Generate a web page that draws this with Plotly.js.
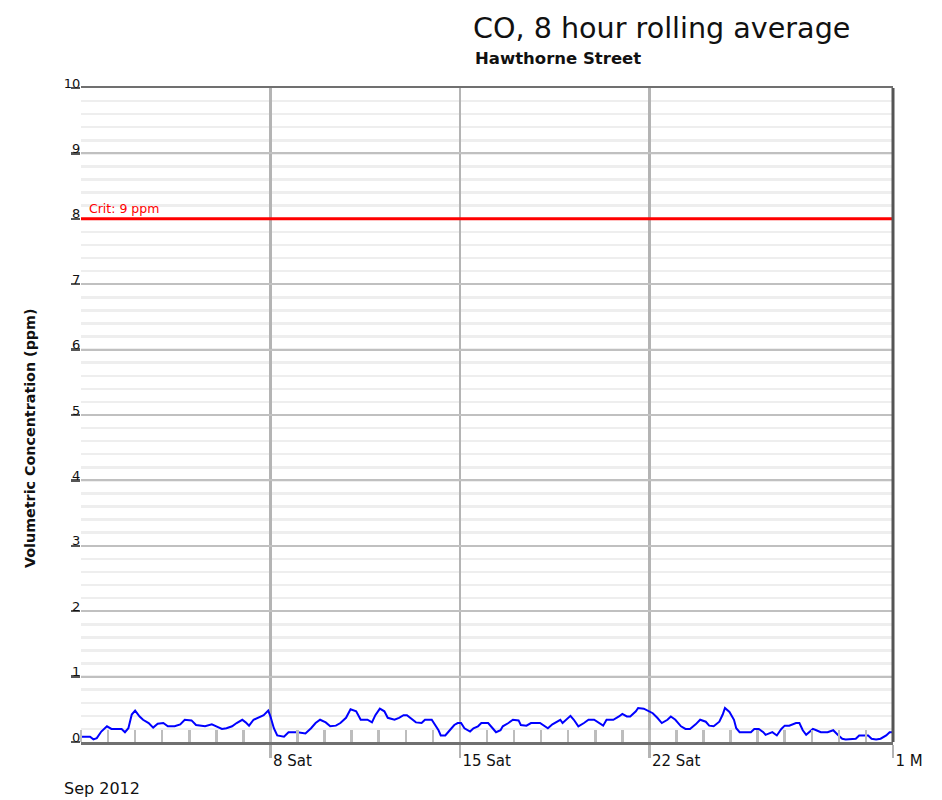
<!DOCTYPE html>
<html>
<head>
<meta charset="utf-8">
<script src="https://cdn.plot.ly/plotly-3.0.1.min.js"></script>
<style>html,body{margin:0;padding:0;background:#fff;}#chart{width:942px;height:800px;}</style>
</head>
<body>
<div id="chart"></div>
<script>
// Hours since 2012-09-01 00:00
const hoursSinceStart = [0,8,11,14,18,23,27,36,39,42,45,48,52,55,60,64,68,73,77,83,88,92,98,102,110,116,120,125,129,134,138,143,
146,149,153,158,162,166,168,171,174,180,184,192,199,204,208,212,217,221,226,230,235,239,244,248,254,258,261,265,269,272,278,282,
286,289,293,297,302,305,311,313,317,319,323,327,331,334,337,340,345,348,352,355,361,365,368,372,374,379,383,388,390,395,399,407,411,414,418,422,425,427,
432,434,437,441,446,450,455,459,463,466,472,477,480,484,487,492,494,499,503,507,511,515,520,523,527,532,536,540,545,549,554,557,561,566,569,571,575,
579,581,584,588,594,597,601,605,607,613,617,621,624,628,634,637,640,643,646,649,652,656,662,667,671,675,678,683,687,690,695,698,701,705,709,714,717,720];
// CO 8-hour rolling average (ppm)
const coValues = [0.08,0.08,0.04,0.06,0.16,0.24,0.20,0.20,0.15,0.21,0.42,0.48,0.39,0.34,0.29,0.22,0.28,0.29,0.24,0.24,0.27,0.34,0.33,0.26,0.24,0.27,0.24,0.20,0.21,0.24,0.29,0.34,
0.30,0.25,0.34,0.38,0.41,0.48,0.39,0.21,0.10,0.08,0.15,0.15,0.13,0.21,0.29,0.34,0.30,0.24,0.25,0.29,0.37,0.50,0.47,0.34,0.34,0.30,0.41,0.51,0.47,0.37,0.34,0.37,
0.41,0.41,0.36,0.30,0.29,0.34,0.34,0.29,0.18,0.10,0.10,0.18,0.26,0.29,0.29,0.21,0.16,0.21,0.24,0.29,0.29,0.21,0.15,0.18,0.24,0.29,0.34,0.33,0.26,0.25,0.29,0.29,0.25,0.21,0.27,0.31,0.34,0.29,
0.38,0.40,0.34,0.24,0.29,0.34,0.34,0.29,0.25,0.34,0.34,0.39,0.43,0.39,0.39,0.47,0.52,0.51,0.47,0.44,0.37,0.29,0.34,0.39,0.34,0.24,0.20,0.20,0.27,0.34,0.31,0.25,0.24,0.31,0.42,0.52,0.46,
0.34,0.21,0.15,0.15,0.15,0.20,0.20,0.15,0.11,0.15,0.10,0.20,0.25,0.25,0.29,0.29,0.18,0.11,0.15,0.20,0.18,0.15,0.15,0.18,0.11,0.05,0.04,0.05,0.05,0.10,0.10,0.10,0.05,0.04,0.05,0.10,0.15,0.15];

const startDate = '2012-09-01 00:00';
const endDate = '2012-10-01 00:00';
const thresholdValue = 8;
const thresholdLabel = 'Crit: 9 ppm';
const xTickVals = ['2012-09-08','2012-09-15','2012-09-22','2012-10-01'];
const xTickText = ['8 Sat','15 Sat','22 Sat','1 M'];
const yTickVals = [0,1,2,3,4,5,6,7,8,9,10];
const yTickText = ['0','1','2','3','4','5','6','7','8','9','10'];
const titleText = 'CO, 8 hour rolling average';
const subtitleText = 'Hawthorne Street';
const yTitleText = 'Volumetric Concentration (ppm)';
const monthLabel = 'Sep 2012';

function pad(n){return (n<10?'0':'')+n;}
const t0 = Date.UTC(2012,8,1,0,0,0);
const xDates = hoursSinceStart.map(h=>{
  const d = new Date(t0 + h*3600000);
  return d.getUTCFullYear()+'-'+pad(d.getUTCMonth()+1)+'-'+pad(d.getUTCDate())+' '+pad(d.getUTCHours())+':00';
});

const FONT = 'DejaVu Sans, Arial, sans-serif';

const traces = [
  {x:[startDate,endDate], y:[thresholdValue,thresholdValue], mode:'lines', type:'scatter',
   line:{color:'#ff0000', width:3}, hoverinfo:'skip'},
  {x:xDates, y:coValues, mode:'lines', type:'scatter', line:{color:'#0000ff', width:2}}
];

const layout = {
  width:942, height:800,
  margin:{l:81, r:49, t:88, b:58},
  paper_bgcolor:'#fff', plot_bgcolor:'#fff',
  showlegend:false,
  font:{family:FONT, color:'#111'},
  title:{text:titleText, font:{family:FONT, size:28.6, color:'#111'},
         xref:'container', x:473/942, xanchor:'left', yref:'container', y:1-28/800, yanchor:'middle'},
  xaxis:{type:'date', range:[startDate,endDate], tickmode:'array', tickvals:xTickVals, ticktext:xTickText,
         ticks:'outside', ticklen:13, tickwidth:2.5, tickcolor:'#b4b4b4',
         showgrid:true, gridcolor:'#b4b4b4', gridwidth:2.5, zeroline:false,
         showline:true, linecolor:'#707070', linewidth:2.5, mirror:true,
         ticklabelposition:'outside right', ticklabelstandoff:3,
         tickfont:{family:FONT, size:15, color:'#111'},
         minor:{tickmode:'linear', tick0:startDate, dtick:86400000, ticks:'inside', ticklen:12, tickwidth:2.5, tickcolor:'#bdbdbd', showgrid:false}},
  yaxis:{range:[0,10], tickmode:'array', tickvals:yTickVals, ticktext:yTickText,
         ticks:'outside', ticklen:9, tickwidth:2.5, tickcolor:'#555',
         showgrid:true, gridcolor:'#c0c0c0', gridwidth:2, zeroline:false, showline:false,
         ticklabelstandoff:-12, ticklabelshift:-5,
         tickfont:{family:FONT, size:13, color:'#111'},
         minor:{tickmode:'linear', tick0:0, dtick:0.2, showgrid:true, gridcolor:'#eeeeee', gridwidth:2.5, ticks:''}},
  shapes:[{type:'line', xref:'paper', yref:'paper', x0:1, x1:1, y0:0, y1:1, line:{color:'#555', width:3}}],
  annotations:[
    {text:subtitleText, xref:'paper', yref:'paper', x:(473-81)/812, y:1, xanchor:'left', yanchor:'middle', yshift:30,
     showarrow:false, font:{family:FONT, size:16.5, color:'#111', weight:'bold'}},
    {text:yTitleText, xref:'paper', yref:'paper', x:0, y:(742-438)/654, xanchor:'center', yanchor:'middle', xshift:-51,
     textangle:-90, showarrow:false, font:{family:FONT, size:14.3, color:'#111', weight:'bold'}},
    {text:thresholdLabel, xref:'x', yref:'y', x:startDate, y:thresholdValue, xanchor:'left', yanchor:'bottom', xshift:6, yshift:1,
     showarrow:false, font:{family:FONT, size:12.5, color:'#ff0000'}},
    {text:monthLabel, xref:'paper', yref:'paper', x:0, y:0, xanchor:'left', yanchor:'middle', xshift:-19, yshift:-46,
     showarrow:false, font:{family:FONT, size:16, color:'#111'}}
  ]
};

Plotly.newPlot('chart', traces, layout, {displayModeBar:false, staticPlot:true});
</script>
</body>
</html>
